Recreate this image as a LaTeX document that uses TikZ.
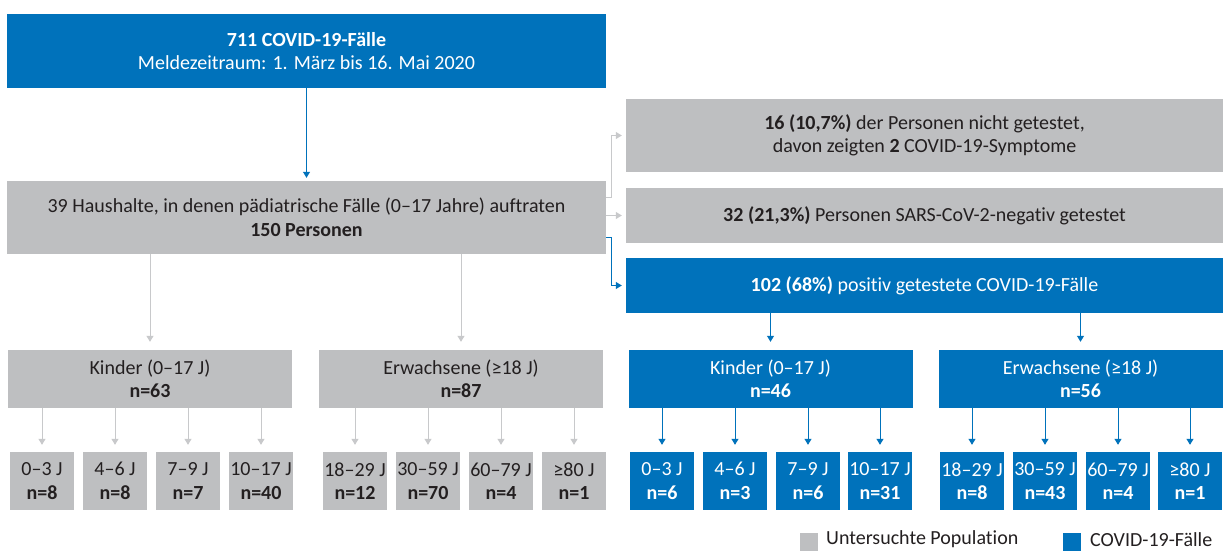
\documentclass[tikz,border=0pt]{standalone}
\usepackage{fontspec}
\setmainfont{Carlito}[Ligatures=NoCommon]
\usetikzlibrary{arrows.meta}
\definecolor{blau}{RGB}{0,114,187}
\definecolor{grau}{RGB}{190,191,193}
\definecolor{pfeilgrau}{RGB}{200,201,203}
\definecolor{schrift}{RGB}{35,31,32}
\begin{document}
\begin{tikzpicture}[x=1pt,y=-1pt,>={Triangle[width=7pt,length=6pt]},
	every node/.style={font=\fontsize{20}{23.5}\selectfont,align=center,inner sep=0pt},
	graubox/.style={fill=grau,text=schrift},
	blaubox/.style={fill=blau,text=white},
	graupfeil/.style={draw=pfeilgrau,line width=1pt,->},
	blaupfeil/.style={draw=blau,line width=1pt,->}]
	\useasboundingbox[fill=white] (0,0) rectangle (1223,551);
	% obere Zeile
	\node[blaubox,minimum width=599pt,minimum height=74pt] (meld) at (306.5,51) {\textbf{711 COVID-19-Fälle}\\Meldezeitraum: 1. März bis 16. Mai 2020};
	\node[graubox,minimum width=599pt,minimum height=73pt] (haus) at (306.5,217.5) {39 Haushalte, in denen pädiatrische Fälle (0–17 Jahre) auftraten\\\textbf{150 Personen}};
	\node[graubox,minimum width=597pt,minimum height=73pt] (nicht) at (924.5,135.5) {\textbf{16 (10,7\%)} der Personen nicht getestet,\\ davon zeigten \textbf{2} COVID-19-Symptome};
	\node[graubox,minimum width=597pt,minimum height=55pt] (neg) at (924.5,215.5) {\textbf{32 (21,3\%)} Personen SARS-CoV-2-negativ getestet};
	\node[blaubox,minimum width=597pt,minimum height=55pt] (pos) at (924.5,285.5) {\textbf{102 (68\%)} positiv getestete COVID-19-Fälle};
	\draw[blaupfeil,shorten >=3pt] (meld) -- (haus);
	\draw[graupfeil] ([yshift=20pt]haus.east) -- ++(5,0) |- ([xshift=-4pt]nicht.west);
	\draw[graupfeil] (haus.east |- neg.west) -- ([xshift=-4pt]neg.west);
	\draw[blaupfeil] ([yshift=-19.5pt]haus.east) -- ++(5,0) |- ([xshift=-4pt]pos.west);
	% Gruppen
	\node[graubox,minimum width=284pt,minimum height=58pt] (gk) at (150,379) {Kinder (0–17 J)\\\textbf{n=63}};
	\node[graubox,minimum width=284pt,minimum height=58pt] (ge) at (461,379) {Erwachsene (≥18 J)\\\textbf{n=87}};
	\node[blaubox,minimum width=284pt,minimum height=58pt] (bk) at (770.5,379) {Kinder (0–17 J)\\\textbf{n=46}};
	\node[blaubox,minimum width=284pt,minimum height=58pt] (be) at (1080.5,379) {Erwachsene (≥18 J)\\\textbf{n=56}};
	\draw[graupfeil,shorten >=8pt] (haus.south -| gk.north) -- (gk.north);
	\draw[graupfeil,shorten >=8pt] (haus.south -| ge.north) -- (ge.north);
	\draw[blaupfeil,shorten >=8pt] (pos.south -| bk.north) -- (bk.north);
	\draw[blaupfeil,shorten >=8pt] (pos.south -| be.north) -- (be.north);
	% Altersgruppen
	\foreach \i/\x/\t/\n in {1/42/0–3 J/8,2/115/4–6 J/8,3/188/7–9 J/7,4/261/10–17 J/40}{
		\node[graubox,minimum width=64pt,minimum height=58pt] (gk\i) at (\x,481) {\t\\\textbf{n=\n}};
		\draw[graupfeil,shorten >=7pt] (gk.south -| gk\i.north) -- (gk\i.north);}
	\foreach \i/\x/\t/\n in {1/355/18–29 J/12,2/428/30–59 J/70,3/501/60–79 J/4,4/574/≥80 J/1}{
		\node[graubox,minimum width=64pt,minimum height=58pt] (ge\i) at (\x,481) {\t\\\textbf{n=\n}};
		\draw[graupfeil,shorten >=7pt] (ge.south -| ge\i.north) -- (ge\i.north);}
	\foreach \i/\x/\t/\n in {1/662/0–3 J/6,2/735/4–6 J/3,3/808/7–9 J/6,4/880/10–17 J/31}{
		\node[blaubox,minimum width=64pt,minimum height=58pt] (bk\i) at (\x,481) {\t\\\textbf{n=\n}};
		\draw[blaupfeil,shorten >=7pt] (bk.south -| bk\i.north) -- (bk\i.north);}
	\foreach \i/\x/\t/\n in {1/972/18–29 J/8,2/1045/30–59 J/43,3/1118/60–79 J/4,4/1190/≥80 J/1}{
		\node[blaubox,minimum width=64pt,minimum height=58pt] (be\i) at (\x,481) {\t\\\textbf{n=\n}};
		\draw[blaupfeil,shorten >=7pt] (be.south -| be\i.north) -- (be\i.north);}
	% Legende
	\node[graubox,minimum size=18pt,anchor=north west] (leggrau) at (800,533) {};
	\node[anchor=west,text=schrift] (legpop) at (826,539.5) {Untersuchte Population};
	\node[blaubox,minimum size=18pt,anchor=north west] (legblau) at (1063,533) {};
	\node[anchor=west,text=schrift] (legfall) at (1090,539.5) {COVID-19-Fälle};
\end{tikzpicture}
\end{document}
